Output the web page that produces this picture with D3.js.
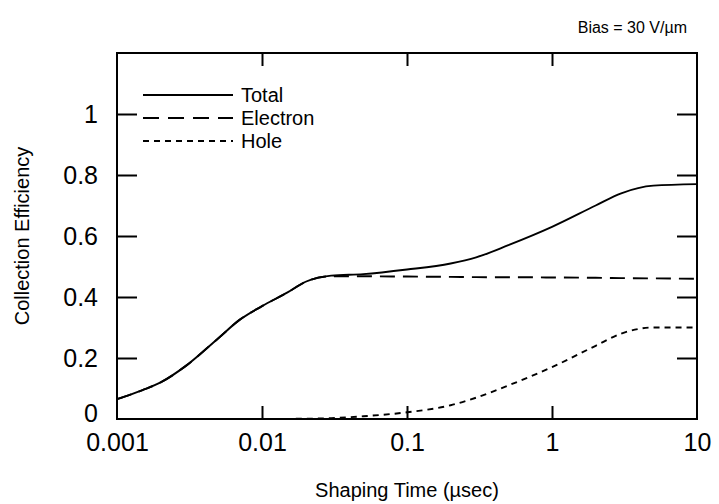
<!DOCTYPE html>
<html>
<head>
<meta charset="utf-8">
<script src="https://cdn.jsdelivr.net/npm/d3@7"></script>
<style>
  body { margin: 0; background: #fff; }
  svg text { font-family: "Liberation Sans", Arial, sans-serif; fill: #000; }
</style>
</head>
<body>
<div id="grafico"></div>
<script>
// shaping time (usec)
var tiempos = [0.001, 0.0015, 0.002, 0.003, 0.005, 0.007, 0.01, 0.015, 0.02, 0.03, 0.05, 0.1, 0.2, 0.3, 0.5, 1, 2, 3, 5, 10];
var total = [0.065, 0.095, 0.12, 0.175, 0.265, 0.325, 0.37, 0.415, 0.45, 0.47, 0.475, 0.49, 0.51, 0.53, 0.57, 0.63, 0.70, 0.74, 0.765, 0.77];
var electron = [0.065, 0.095, 0.12, 0.175, 0.265, 0.325, 0.37, 0.415, 0.45, 0.468, 0.468, 0.467, 0.466, 0.465, 0.465, 0.464, 0.463, 0.462, 0.461, 0.46];
var tiemposHole = [0.006, 0.01, 0.02, 0.03, 0.05, 0.1, 0.2, 0.3, 0.5, 1, 2, 3, 5, 10];
var hole = [0, 0, 0.001, 0.003, 0.009, 0.022, 0.045, 0.07, 0.11, 0.17, 0.24, 0.28, 0.3, 0.3];
var xTicks = [0.001, 0.01, 0.1, 1, 10];
var yTicks = [0, 0.2, 0.4, 0.6, 0.8, 1];

var w = 719, h = 504;
var margen = {left: 117, right: 22, top: 53, bottom: 85};

var svg = d3.select("#grafico").append("svg")
    .attr("width", w)
    .attr("height", h);

var x = d3.scaleLog().domain([0.001, 10]).range([margen.left, w - margen.right]);
var y = d3.scaleLinear().domain([0, 1.2]).range([h - margen.bottom, margen.top]);

// ejes
var ejeAbajo = svg.append("g")
    .attr("transform", "translate(0," + y(0) + ")")
    .call(d3.axisBottom(x).tickValues(xTicks).tickFormat(function(d) { return String(d); })
        .tickSizeInner(-13).tickSizeOuter(0).tickPadding(14));
var ejeArriba = svg.append("g")
    .attr("transform", "translate(0," + y(1.2) + ")")
    .call(d3.axisTop(x).tickValues(xTicks.slice(1, 4)).tickFormat("")
        .tickSizeInner(-13).tickSizeOuter(0));
var ejeIzq = svg.append("g")
    .attr("transform", "translate(" + x(0.001) + ",0)")
    .call(d3.axisLeft(y).tickValues(yTicks).tickFormat(function(d) { return String(d); })
        .tickSizeInner(-20).tickSizeOuter(0).tickPadding(19));
var ejeDer = svg.append("g")
    .attr("transform", "translate(" + x(10) + ",0)")
    .call(d3.axisRight(y).tickValues(yTicks.slice(1)).tickFormat("")
        .tickSizeInner(-20).tickSizeOuter(0));

[ejeAbajo, ejeArriba, ejeIzq, ejeDer].forEach(function(e) {
    e.select(".domain").remove();
    e.selectAll(".tick line").attr("stroke", "#000").attr("stroke-width", 2);
    e.selectAll(".tick text").attr("font-size", 25).attr("font-family", "Liberation Sans, Arial, sans-serif");
});
ejeIzq.selectAll(".tick line").filter(function(d) { return d === 0; }).remove();
ejeIzq.selectAll(".tick text").filter(function(d) { return d === 0; }).attr("dy", "0.1em");
ejeAbajo.selectAll(".tick line").filter(function(d) { return d === 0.001 || d === 10; }).remove();

svg.append("rect")
    .attr("x", x(0.001))
    .attr("y", y(1.2))
    .attr("width", x(10) - x(0.001))
    .attr("height", y(0) - y(1.2))
    .attr("fill", "none")
    .attr("stroke", "#000")
    .attr("stroke-width", 2);

// curvas
var linea = d3.line()
    .x(function(d) { return x(d[0]); })
    .y(function(d) { return y(d[1]); })
    .curve(d3.curveMonotoneX);

var series = [
    {nombre: "Total", t: tiempos, v: total, dash: null},
    {nombre: "Electron", t: tiempos, v: electron, dash: "15,8"},
    {nombre: "Hole", t: tiemposHole, v: hole, dash: "6,5"}
];

series.forEach(function(s) {
    svg.append("path")
        .datum(d3.zip(s.t, s.v))
        .attr("d", linea)
        .attr("fill", "none")
        .attr("stroke", "#000")
        .attr("stroke-width", 1.9)
        .attr("stroke-dasharray", s.dash);
});

// leyenda
var ley = svg.append("g").attr("transform", "translate(143,95)");
series.forEach(function(s, i) {
    ley.append("line")
        .attr("x1", 0).attr("x2", 90)
        .attr("y1", i * 23).attr("y2", i * 23)
        .attr("stroke", "#000")
        .attr("stroke-width", 1.9)
        .attr("stroke-dasharray", s.dash === "15,8" ? "16,9" : s.dash);
    ley.append("text")
        .attr("x", 98)
        .attr("y", i * 23 + 7)
        .attr("font-size", 20)
        .text(s.nombre);
});

// textos
svg.append("text")
    .attr("x", (x(0.001) + x(10)) / 2)
    .attr("y", 497)
    .attr("text-anchor", "middle")
    .attr("font-size", 20)
    .text("Shaping Time (\u00b5sec)");

svg.append("text")
    .attr("transform", "translate(29," + (y(0.6)) + ") rotate(-90)")
    .attr("text-anchor", "middle")
    .attr("font-size", 20)
    .text("Collection Efficiency");

svg.append("text")
    .attr("x", 687)
    .attr("y", 33)
    .attr("text-anchor", "end")
    .attr("font-size", 16)
    .text("Bias = 30 V/\u00b5m");
</script>
</body>
</html>
